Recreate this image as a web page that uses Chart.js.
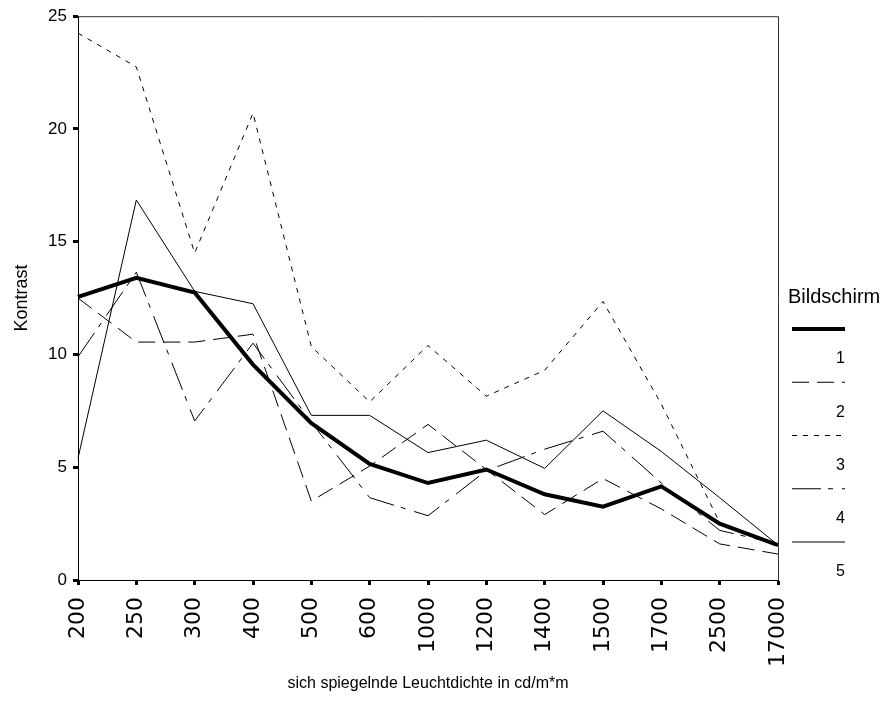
<!DOCTYPE html>
<html lang="de">
<head>
<meta charset="utf-8">
<title>Kontrast nach Leuchtdichte</title>
<script src="https://cdn.jsdelivr.net/npm/chart.js@4.4.1/dist/chart.umd.min.js"></script>
<style>
  html, body { margin: 0; padding: 0; background: #fff; }
  #kontrastChart { display: block; }
</style>
</head>
<body>
<canvas id="kontrastChart" width="890" height="719"></canvas>
<script>
// ==================== DATA ====================
const leuchtdichte = ['200', '250', '300', '400', '500', '600', '1000', '1200', '1400', '1500', '1700', '2500', '17000'];

const bildschirm1 = [12.55, 13.4, 12.75, 9.55, 6.95, 5.15, 4.3, 4.9, 3.8, 3.25, 4.15, 2.5, 1.55];
const bildschirm2 = [12.5, 10.55, 10.55, 10.9, 3.5, 5.05, 6.9, 4.9, 2.9, 4.5, 3.15, 1.6, 1.15];
const bildschirm3 = [24.25, 22.75, 14.5, 20.7, 10.35, 7.9, 10.4, 8.15, 9.3, 12.35, 7.8, 2.55, 1.5];
const bildschirm4 = [9.9, 13.65, 7.05, 10.5, 7.0, 3.65, 2.85, 4.85, 5.8, 6.6, 4.3, 2.2, 1.6];
const bildschirm5 = [5.4, 16.85, 12.8, 12.25, 7.3, 7.3, 5.65, 6.2, 4.95, 7.5, 5.7, 3.65, 1.55];

const bildschirmNamen = ['1', '2', '3', '4', '5'];
const kontrastTicks = [0, 5, 10, 15, 20, 25];

// ==================== STYLE ====================
const FONT = '"Liberation Sans", Arial, Helvetica, sans-serif';

// one line style per screen: thick, long dash, short dash, dash-dot, thin
const linienStil = [
    { width: 4, dash: [] },
    { width: 1, dash: [17, 8] },
    { width: 1, dash: [5, 6] },
    { width: 1, dash: [29, 7, 5, 9] },
    { width: 1, dash: [] }
];

// ==================== PLUGINS ====================
// top and right edge of the plot frame
const rahmen = {
    id: 'rahmen',
    beforeDatasetsDraw(chart) {
        const { ctx, chartArea: a } = chart;
        ctx.save();
        ctx.strokeStyle = '#333';
        ctx.lineWidth = 1;
        ctx.beginPath();
        ctx.moveTo(a.left, a.top + 0.5);
        ctx.lineTo(a.right + 0.5, a.top + 0.5);
        ctx.lineTo(a.right + 0.5, a.bottom);
        ctx.stroke();
        ctx.restore();
    }
};

// legend column on the right: title, then line sample with its number below
const legendeSpalte = {
    id: 'legendeSpalte',
    afterDraw(chart) {
        const { ctx, chartArea: a } = chart;
        const x0 = a.right + 14;
        const x1 = a.right + 67;
        ctx.save();
        ctx.fillStyle = '#000';
        ctx.textBaseline = 'middle';
        ctx.font = '20px ' + FONT;
        ctx.textAlign = 'left';
        ctx.fillText('Bildschirm', a.right + 10, 297);

        chart.data.datasets.forEach((ds, i) => {
            const y = 329 + i * 53.25;
            ctx.beginPath();
            ctx.strokeStyle = ds.borderColor;
            ctx.lineWidth = ds.borderWidth;
            ctx.setLineDash(ds.borderDash);
            ctx.moveTo(x0, y);
            ctx.lineTo(x1, y);
            ctx.stroke();
            ctx.setLineDash([]);

            ctx.font = '16px ' + FONT;
            ctx.textAlign = 'right';
            ctx.fillText(ds.label, x1, y + 30);
        });
        ctx.restore();
    }
};

// ==================== CHART ====================
function buildDatasets() {
    const reihen = [bildschirm1, bildschirm2, bildschirm3, bildschirm4, bildschirm5];
    return reihen.map((werte, i) => ({
        label: bildschirmNamen[i],
        data: werte,
        borderColor: '#000',
        backgroundColor: '#000',
        borderWidth: linienStil[i].width,
        borderDash: linienStil[i].dash,
        pointRadius: 0,
        tension: 0,
        fill: false,
        clip: false
    }));
}

function renderChart() {
    const ctx = document.getElementById('kontrastChart');
    Chart.defaults.font.family = FONT;
    Chart.defaults.color = '#000';

    new Chart(ctx, {
        type: 'line',
        data: {
            labels: leuchtdichte,
            datasets: buildDatasets()
        },
        options: {
            responsive: false,
            animation: false,
            layout: { padding: { top: 16, right: 112, left: 0, bottom: 0 } },
            plugins: {
                legend: { display: false },
                tooltip: { enabled: false }
            },
            scales: {
                x: {
                    offset: false,
                    afterFit: s => { s.height = 139; },
                    border: { display: true, color: '#000', width: 1 },
                    grid: {
                        drawOnChartArea: false,
                        drawTicks: true,
                        tickLength: 5,
                        tickWidth: 3,
                        tickColor: '#000'
                    },
                    ticks: {
                        minRotation: 90,
                        maxRotation: 90,
                        autoSkip: false,
                        padding: 12,
                        font: { size: 22, family: '"DejaVu Sans", ' + FONT },
                        color: '#000'
                    },
                    title: {
                        display: true,
                        text: 'sich spiegelnde Leuchtdichte in cd/m*m',
                        font: { size: 16 },
                        color: '#000',
                        padding: { top: 0, bottom: 26 }
                    }
                },
                y: {
                    min: 0,
                    max: 25,
                    afterFit: s => { s.width = 78; },
                    afterBuildTicks: s => { s.ticks = kontrastTicks.map(v => ({ value: v })); },
                    border: { display: true, color: '#000', width: 1 },
                    grid: {
                        drawOnChartArea: false,
                        drawTicks: true,
                        tickLength: 5,
                        tickWidth: 3,
                        tickColor: '#000'
                    },
                    ticks: {
                        padding: 6,
                        font: { size: 17 },
                        color: '#000'
                    },
                    title: {
                        display: true,
                        text: 'Kontrast',
                        font: { size: 18 },
                        color: '#000',
                        padding: { top: 11, bottom: 0 }
                    }
                }
            }
        },
        plugins: [rahmen, legendeSpalte]
    });
}

// ==================== INITIALIZE ====================
document.addEventListener('DOMContentLoaded', renderChart);
</script>
</body>
</html>
